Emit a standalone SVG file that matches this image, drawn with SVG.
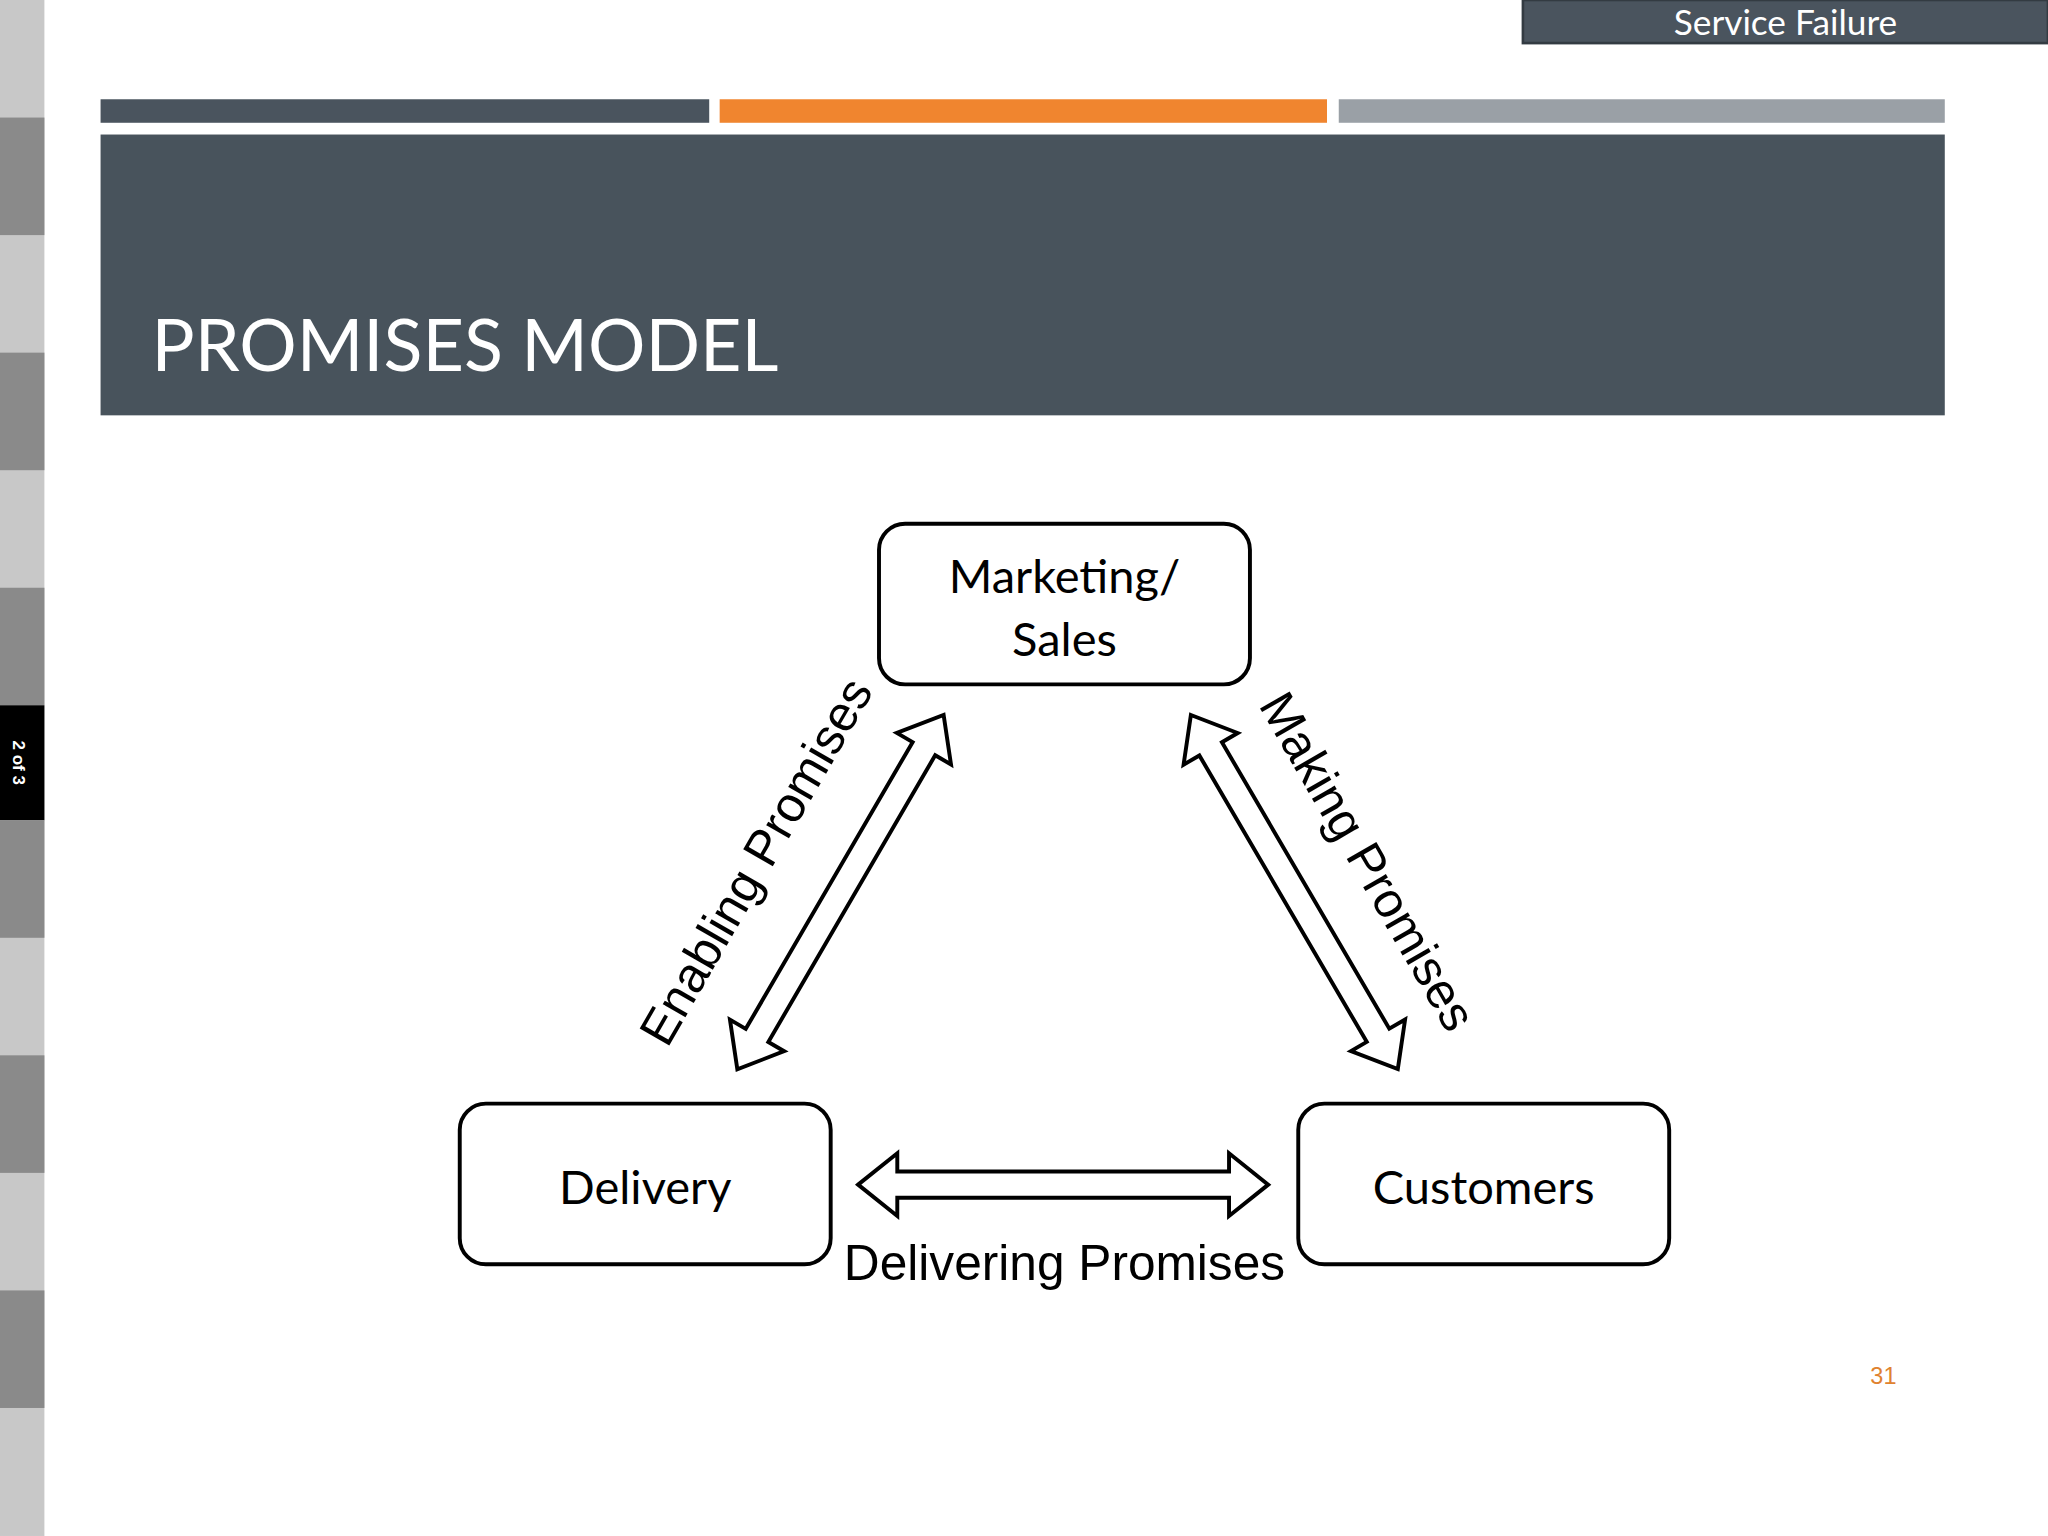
<svg xmlns="http://www.w3.org/2000/svg" width="2048" height="1536" viewBox="0 0 2048 1536">
<defs>
<style>
.box{fill:#fff;stroke:#000;stroke-width:3}
.nt{font-family:"Lato","Open Sans",sans-serif;font-size:36px;fill:#000;text-anchor:middle}
.lbl{font-family:"Liberation Sans",Arial,sans-serif;font-size:38px;fill:#000;text-anchor:middle}
.arr{fill:#fff;stroke:#000;stroke-width:3;stroke-linejoin:miter}
</style>
<polygon id="dbl" class="arr" points="-157,0 -127,-24 -127,-10 127,-10 127,-24 157,0 127,24 127,10 -127,10 -127,24"/>
</defs>
<rect width="2048" height="1536" fill="#fff"/>
<g transform="scale(1.3061)">
<g id="strip">
<rect x="0" y="0" width="34" height="1176" fill="#c8c8c8"/>
<rect x="0" y="90" width="34" height="90" fill="#8a8a8a"/>
<rect x="0" y="270" width="34" height="90" fill="#8a8a8a"/>
<rect x="0" y="450" width="34" height="90" fill="#8a8a8a"/>
<rect x="0" y="540" width="34" height="88" fill="#000"/>
<rect x="0" y="628" width="34" height="90" fill="#8a8a8a"/>
<rect x="0" y="808" width="34" height="90" fill="#8a8a8a"/>
<rect x="0" y="988" width="34" height="90" fill="#8a8a8a"/>
<text transform="translate(10,584) rotate(90)" font-family="Liberation Sans,sans-serif" font-size="13" font-weight="bold" fill="#fff" text-anchor="middle">2 of 3</text>
</g>
<g id="header">
<rect x="1166" y="0" width="402" height="33" fill="#4a545e" stroke="#333b42" stroke-width="2"/>
<text x="1367" y="27" font-family="Lato,'Open Sans',sans-serif" font-size="27" fill="#fff" text-anchor="middle">Service Failure</text>
<rect x="77" y="76" width="466" height="18" fill="#4a545e"/>
<rect x="551" y="76" width="465" height="18" fill="#f0852f"/>
<rect x="1025" y="76" width="464" height="18" fill="#9aa0a6"/>
<rect x="77" y="103" width="1412" height="215" fill="#48535c"/>
<text x="116" y="284" font-family="Lato,'Open Sans',sans-serif" font-size="55" fill="#fff">PROMISES MODEL</text>
</g>
<g id="connectors">
<use href="#dbl" transform="translate(814,907)"/>
<use href="#dbl" transform="translate(643.5,683) rotate(-59.8)"/>
<use href="#dbl" transform="translate(991,683) rotate(59.7)"/>
<text class="lbl" transform="translate(590,666) rotate(-60)">Enabling Promises</text>
<text class="lbl" transform="translate(1036,666) rotate(60)">Making Promises</text>
<text class="lbl" x="815" y="980">Delivering Promises</text>
</g>
<g id="marketing"><rect class="box" x="673" y="401" width="284" height="123" rx="20"/>
<text class="nt" x="815" y="454">Marketing/</text><text class="nt" x="815" y="502">Sales</text></g>
<g id="delivery"><rect class="box" x="352" y="845" width="284" height="123" rx="20"/>
<text class="nt" x="494" y="922">Delivery</text></g>
<g id="customers"><rect class="box" x="994" y="845" width="284" height="123" rx="20"/>
<text class="nt" x="1136" y="922">Customers</text></g>
<text x="1442" y="1060" font-family="Liberation Sans,sans-serif" font-size="18" fill="#e0822f" text-anchor="middle">31</text>
</g>
</svg>
